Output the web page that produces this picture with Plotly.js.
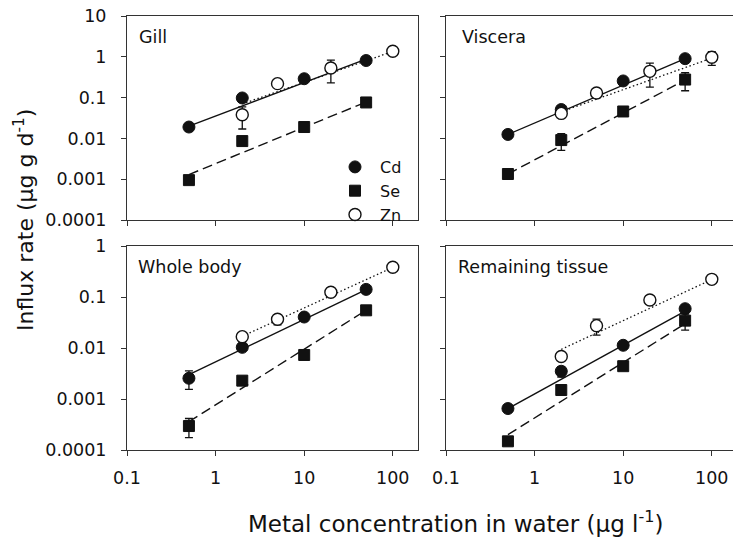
<!DOCTYPE html>
<html>
<head>
<meta charset="utf-8">
<script src="https://cdn.plot.ly/plotly-3.0.1.min.js"></script>
<style>html,body{margin:0;padding:0;background:#fff;}#chart{width:733px;height:537px;}</style>
</head>
<body>
<div id="chart"></div>
<script>
// ---- data ----
const concCdSe = [0.5, 2, 10, 50];
const concZn = [2, 5, 20, 100];
const fitXCdSe = [0.5, 50];
const fitXZn = [2, 100];

const panelNames = ['Gill', 'Viscera', 'Whole body', 'Remaining tissue'];
const seriesNames = ['Cd', 'Se', 'Zn'];

// Gill
const gillCd = [0.019, 0.098, 0.29, 0.81];
const gillCdErr = [null, null, null, null];
const gillSe = [0.00095, 0.0086, 0.019, 0.076];
const gillSeErr = [null, null, null, null];
const gillZn = [0.038, 0.22, 0.53, 1.37];
const gillZnErr = [0.021, null, 0.3, null];
const gillCdFit = [0.02, 0.88];
const gillSeFit = [0.0013, 0.078];
const gillZnFit = [0.07, 1.35];

// Viscera
const visCd = [0.0125, 0.051, 0.256, 0.9];
const visCdErr = [null, null, null, null];
const visSe = [0.00134, 0.0091, 0.0457, 0.277];
const visSeErr = [null, 0.004, null, 0.13];
const visZn = [0.041, 0.13, 0.44, 0.975];
const visZnErr = [null, null, 0.26, 0.36];
const visCdFit = [0.0125, 0.9];
const visSeFit = [0.00134, 0.27];
const visZnFit = [0.045, 0.93];

// Whole body
const wbCd = [0.00255, 0.0103, 0.0405, 0.141];
const wbCdErr = [0.001, null, null, null];
const wbSe = [0.000295, 0.00229, 0.0073, 0.0548];
const wbSeErr = [0.00012, null, null, null];
const wbZn = [0.0167, 0.0365, 0.124, 0.382];
const wbZnErr = [null, 0.008, 0.015, null];
const wbCdFit = [0.003, 0.14];
const wbSeFit = [0.00036, 0.055];
const wbZnFit = [0.017, 0.38];

// Remaining tissue
const remCd = [0.00065, 0.0035, 0.0113, 0.059];
const remCdErr = [null, 0.0008, null, null];
const remSe = [0.000148, 0.0015, 0.0044, 0.0344];
const remSeErr = [null, null, null, 0.012];
const remZn = [0.0068, 0.0274, 0.0873, 0.222];
const remZnErr = [null, 0.0095, null, null];
const remCdFit = [0.00065, 0.053];
const remSeFit = [0.0002, 0.03];
const remZnFit = [0.0094, 0.22];

// ticks
const xTickVals = [0.1, 1, 10, 100];
const xTickText = ['0.1', '1', '10', '100'];
const yTickValsTop = [10, 1, 0.1, 0.01, 0.001, 0.0001];
const yTickTextTop = ['10', '1', '0.1', '0.01', '0.001', '0.0001'];
const yTickValsBottom = [1, 0.1, 0.01, 0.001, 0.0001];
const yTickTextBottom = ['1', '0.1', '0.01', '0.001', '0.0001'];

// ---- build ----
const panels = [
  {cd: gillCd, cdE: gillCdErr, se: gillSe, seE: gillSeErr, zn: gillZn, znE: gillZnErr, cdF: gillCdFit, seF: gillSeFit, znF: gillZnFit},
  {cd: visCd, cdE: visCdErr, se: visSe, seE: visSeErr, zn: visZn, znE: visZnErr, cdF: visCdFit, seF: visSeFit, znF: visZnFit},
  {cd: wbCd, cdE: wbCdErr, se: wbSe, seE: wbSeErr, zn: wbZn, znE: wbZnErr, cdF: wbCdFit, seF: wbSeFit, znF: wbZnFit},
  {cd: remCd, cdE: remCdErr, se: remSe, seE: remSeErr, zn: remZn, znE: remZnErr, cdF: remCdFit, seF: remSeFit, znF: remZnFit}
];

const FONT = 'DejaVu Sans, Arial, sans-serif';
const traces = [];
panels.forEach((p, i) => {
  const xa = i === 0 ? 'x' : 'x' + (i + 1);
  const ya = i === 0 ? 'y' : 'y' + (i + 1);
  // fit lines
  traces.push({x: fitXCdSe, y: p.cdF, xaxis: xa, yaxis: ya, mode: 'lines', showlegend: false, hoverinfo: 'skip',
    line: {color: '#111', width: 1.4}});
  traces.push({x: fitXCdSe, y: p.seF, xaxis: xa, yaxis: ya, mode: 'lines', showlegend: false, hoverinfo: 'skip',
    line: {color: '#111', width: 1.4, dash: '10px,5px'}});
  traces.push({x: fitXZn, y: p.znF, xaxis: xa, yaxis: ya, mode: 'lines', showlegend: false, hoverinfo: 'skip',
    line: {color: '#111', width: 1.3, dash: '1.5px,2.5px'}});
  // markers
  const eb = arr => ({type: 'data', array: arr, visible: true, color: '#111', thickness: 1.3, width: 4});
  traces.push({x: concCdSe, y: p.cd, xaxis: xa, yaxis: ya, mode: 'markers', name: seriesNames[0],
    showlegend: i === 0, error_y: eb(p.cdE), marker: {symbol: 'circle', size: 12, color: '#111', line: {color: '#111', width: 1}}});
  traces.push({x: concCdSe, y: p.se, xaxis: xa, yaxis: ya, mode: 'markers', name: seriesNames[1],
    showlegend: i === 0, error_y: eb(p.seE), marker: {symbol: 'square', size: 11, color: '#111', line: {color: '#111', width: 1}}});
  traces.push({x: concZn, y: p.zn, xaxis: xa, yaxis: ya, mode: 'markers', name: seriesNames[2],
    showlegend: i === 0, error_y: eb(p.znE), marker: {symbol: 'circle', size: 12, color: '#fff', line: {color: '#111', width: 1.4}}});
});

const W = 733, H = 537;
const px = (a, b) => [a / W, b / W];
const py = (top, bottom) => [(H - bottom) / H, (H - top) / H];

const axisBase = {
  type: 'log', showgrid: false, zeroline: false, showline: true, mirror: true,
  linecolor: '#333', linewidth: 1, ticks: 'outside', ticklen: 5, tickcolor: '#333',
  tickfont: {family: FONT, size: 17.5, color: '#111'}
};
const xAx = (dom, range, labels) => Object.assign({}, axisBase, {
  domain: dom, range: range, tickvals: xTickVals, ticktext: xTickText, showticklabels: labels, ticklabelstandoff: 7
});
const yAx = (dom, range, vals, text, labels, anchor) => Object.assign({}, axisBase, {
  domain: dom, range: range, tickvals: vals, ticktext: text, showticklabels: labels, anchor: anchor, ticklabelstandoff: 11
});

const xL = px(127, 418), xR = px(446, 733);
const yT = py(16, 220), yB = py(246, 450);
const rL = [-1, -1 + (418 - 127) / 88.6];
const rR = [-1, -1 + (733 - 446) / 88.6];

const annotations = panelNames.map((t, i) => ({
  text: t, xref: (i === 0 ? 'x' : 'x' + (i + 1)) + ' domain', yref: (i === 0 ? 'y' : 'y' + (i + 1)) + ' domain',
  x: [0.034, 0.049, 0.03, 0.035][i], y: [0.897, 0.897, 0.898, 0.898][i], xanchor: 'left', yanchor: 'middle',
  showarrow: false, font: {family: FONT, size: 17.5, color: '#111'}
}));
annotations.push({
  text: 'Influx rate (μg g d<sup>-1</sup>)', xref: 'paper', yref: 'paper', x: 24 / W, y: (H - 220) / H,
  xanchor: 'center', yanchor: 'middle', textangle: -90, showarrow: false,
  font: {family: FONT, size: 22, color: '#111'}
});
annotations.push({
  text: 'Metal concentration in water (μg l<sup>-1</sup>)', xref: 'paper', yref: 'paper', x: 455 / W, y: (H - 522) / H,
  xanchor: 'center', yanchor: 'middle', showarrow: false,
  font: {family: FONT, size: 23, color: '#111'}
});

const layout = {
  width: W, height: H, margin: {l: 0, r: 0, t: 0, b: 0},
  paper_bgcolor: '#fff', plot_bgcolor: '#fff',
  font: {family: FONT, color: '#111'},
  xaxis: xAx(xL, rL, false), yaxis: yAx(yT, [-4, 1], yTickValsTop, yTickTextTop, true, 'x'),
  xaxis2: xAx(xR, rR, false), yaxis2: yAx(yT, [-4, 1], yTickValsTop, yTickTextTop, false, 'x2'),
  xaxis3: xAx(xL, rL, true), yaxis3: yAx(yB, [-4, 0], yTickValsBottom, yTickTextBottom, true, 'x3'),
  xaxis4: xAx(xR, rR, true), yaxis4: yAx(yB, [-4, 0], yTickValsBottom, yTickTextBottom, false, 'x4'),
  showlegend: true,
  legend: {x: 330 / W, y: (H - 150) / H, xanchor: 'left', yanchor: 'top', bgcolor: 'rgba(0,0,0,0)', borderwidth: 0,
    font: {family: FONT, size: 16, color: '#111'}, itemwidth: 40, tracegroupgap: 0},
  annotations: annotations
};
layout.xaxis.anchor = 'y'; layout.xaxis2.anchor = 'y2'; layout.xaxis3.anchor = 'y3'; layout.xaxis4.anchor = 'y4';

Plotly.newPlot('chart', traces, layout, {staticPlot: true, displayModeBar: false});
</script>
</body>
</html>
